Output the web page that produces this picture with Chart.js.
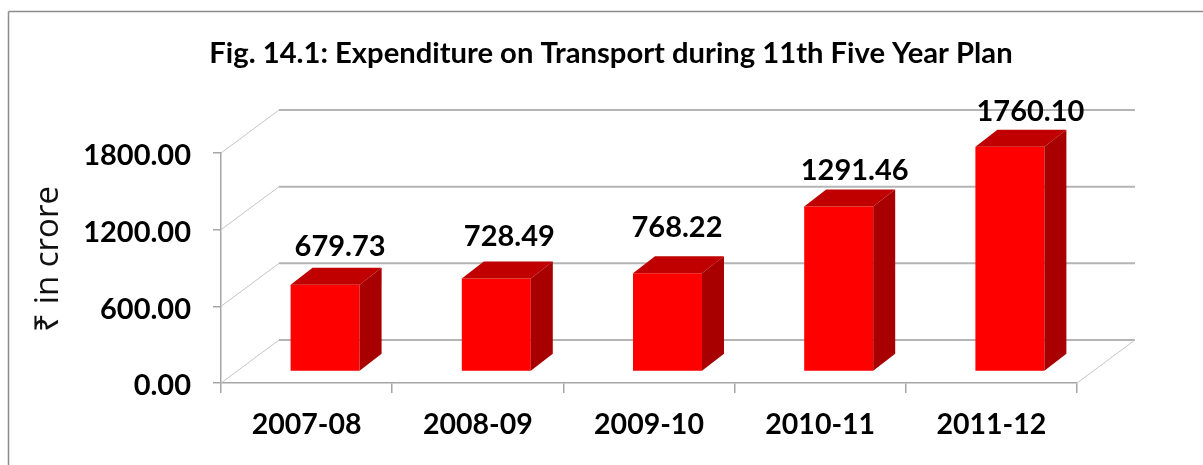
<!DOCTYPE html>
<html>
<head>
<meta charset="utf-8">
<style>
  html, body { margin: 0; padding: 0; background: #fff; }
  #chart { display: block; }
</style>
<script src="https://cdn.jsdelivr.net/npm/chart.js@4"></script>
</head>
<body>
<canvas id="chart" width="1203" height="465"></canvas>
<script>
const categories = ["2007-08", "2008-09", "2009-10", "2010-11", "2011-12"];
const expenditure = [679.73, 728.49, 768.22, 1291.46, 1760.10];
const yTicks = [0, 600, 1200, 1800];
const chartTitle = "Fig. 14.1: Expenditure on Transport during 11th Five Year Plan";
const yTitle = "₹ in crore";

const boldFont = "Lato, Carlito, sans-serif";

// fake 3D: the back wall sits up and right of the axes, bars stand part way in
const wall = { dx: 58, dy: -43 };
const barShift = { dx: 18.5, dy: -11.5 };
const barDepth = { dx: 22, dy: -17 };
// value labels were hand placed in the original, so each has its own nudge off the bar top
const labelNudge = [[15, -38], [13, -42], [9.5, -46], [16, -36], [20.5, -35]];

function poly(ctx, pts, fill) {
    ctx.beginPath();
    pts.forEach((p, i) => i ? ctx.lineTo(p[0], p[1]) : ctx.moveTo(p[0], p[1]));
    ctx.closePath();
    ctx.fillStyle = fill;
    ctx.fill();
}

function line(ctx, x1, y1, x2, y2, color, width) {
    ctx.beginPath();
    ctx.moveTo(x1, y1);
    ctx.lineTo(x2, y2);
    ctx.strokeStyle = color;
    ctx.lineWidth = width;
    ctx.stroke();
}

const fake3d = {
    id: "fake3d",
    afterLayout(chart) {
        // y labels hang out past the padded box, stop the scale clipping them
        chart.scales.y.left = 0;
    },
    beforeDatasetsDraw(chart) {
        const { ctx, scales: { x, y } } = chart;
        // back wall gridlines with their diagonals
        yTicks.forEach(v => {
            const py = y.getPixelForValue(v);
            line(ctx, x.left, py, x.left + wall.dx, py + wall.dy, "#c4c4c4", 1);
            line(ctx, x.left + wall.dx, py + wall.dy, x.right + wall.dx, py + wall.dy, "#b4b4b4", 2);
        });
        const floor = y.getPixelForValue(0);
        line(ctx, x.right, floor, x.right + wall.dx, floor + wall.dy, "#c4c4c4", 1);
        ctx.save();
        ctx.translate(barShift.dx, barShift.dy);
    },
    afterDatasetsDraw(chart) {
        const { ctx } = chart;
        chart.getDatasetMeta(0).data.forEach(bar => {
            const l = bar.x - bar.width / 2, r = bar.x + bar.width / 2;
            const d = barDepth;
            poly(ctx, [[l, bar.y], [r, bar.y], [r + d.dx, bar.y + d.dy], [l + d.dx, bar.y + d.dy]], "#c00000");
            poly(ctx, [[r, bar.y], [r + d.dx, bar.y + d.dy], [r + d.dx, bar.base + d.dy], [r, bar.base]], "#a80000");
        });
        ctx.restore();
    },
    afterDraw(chart) {
        const { ctx } = chart;
        // value labels
        ctx.save();
        ctx.fillStyle = "#000";
        ctx.textAlign = "center";
        ctx.textBaseline = "middle";
        ctx.font = "bold 29px " + boldFont;
        chart.getDatasetMeta(0).data.forEach((bar, i) => {
            const n = labelNudge[i];
            ctx.fillText(expenditure[i].toFixed(2), bar.x + barShift.dx + n[0], bar.y + barShift.dy + n[1]);
        });
        // axis title sits above the middle of the axis, so not the scale's own title
        ctx.translate(49, 259);
        ctx.rotate(-Math.PI / 2);
        ctx.font = "33px 'Open Sans', sans-serif";
        ctx.fillStyle = "#111";
        ctx.fillText(yTitle, 0, 0);
        ctx.restore();
        // frame: left and top only, the picture is cropped on the other sides
        line(ctx, 8.5, 465, 8.5, 11.5, "#8c8c8c", 1.5);
        line(ctx, 8.5, 11.5, 1203, 11.5, "#8c8c8c", 1.5);
    }
};

new Chart(document.getElementById("chart"), {
    type: "bar",
    data: {
        labels: categories,
        datasets: [{
            data: expenditure,
            backgroundColor: "#ff0000",
            barPercentage: 0.403,
            categoryPercentage: 1,
            clip: false
        }]
    },
    options: {
        responsive: false,
        animation: false,
        // left padding centres the title where the original has it
        layout: { padding: { top: 0, right: 126, bottom: 0, left: 145 } },
        plugins: {
            legend: { display: false },
            tooltip: { enabled: false },
            title: {
                display: true,
                text: chartTitle,
                color: "#000",
                font: { family: boldFont, size: 29.2, weight: "bold" },
                padding: { top: 36, bottom: 82 }
            }
        },
        scales: {
            x: {
                afterFit(scale) { scale.height = 82; },
                grid: { drawOnChartArea: false, color: "#a6a6a6", lineWidth: 1.5, tickLength: 10 },
                border: { color: "#a6a6a6", width: 1.5 },
                ticks: { color: "#000", font: { family: boldFont, size: 28.5, weight: "bold" }, padding: 15, maxRotation: 0 }
            },
            y: {
                min: 0,
                max: 1800,
                afterFit(scale) { scale.width = 76; },
                afterBuildTicks(scale) { scale.ticks = yTicks.map(v => ({ value: v })); },
                grid: { drawOnChartArea: false, color: "#a6a6a6", lineWidth: 1.5, tickLength: 8 },
                border: { color: "#a6a6a6", width: 1.5 },
                ticks: {
                    color: "#000",
                    font: { family: boldFont, size: 29, weight: "bold" },
                    padding: 22,
                    labelOffset: 3,
                    callback: v => v.toFixed(2)
                }
            }
        }
    },
    plugins: [fake3d]
});
</script>
</body>
</html>
